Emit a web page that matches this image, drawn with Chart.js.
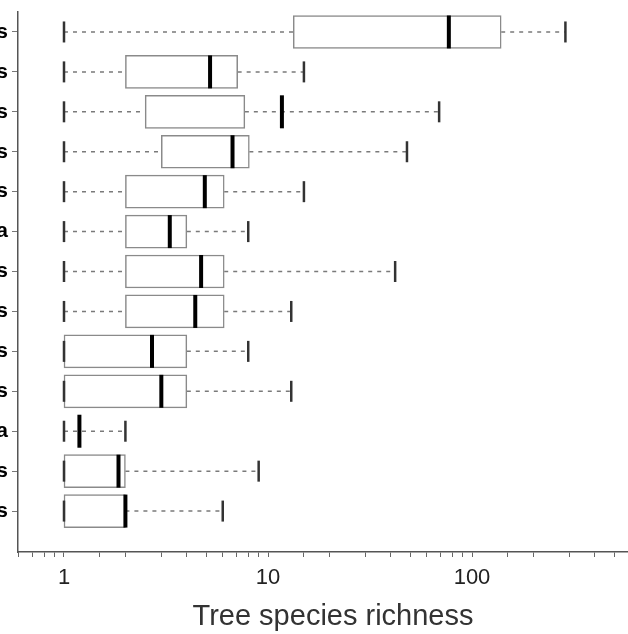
<!DOCTYPE html>
<html>
<head>
<meta charset="utf-8">
<script src="https://cdn.jsdelivr.net/npm/chart.js@4"></script>
<style>
  html, body { margin: 0; padding: 0; background: #fff; overflow: hidden; }
  #wrap { position: absolute; left: -10px; top: 0; width: 658px; height: 634px; }
</style>
</head>
<body>
<div id="wrap"><canvas id="boxChart"></canvas></div>
<script>
// category labels (only the last letter is visible in the source picture)
const cats = ['s', 's', 's', 's', 's', 'a', 's', 's', 's', 's', 'a', 's', 's'];
// box plot statistics, top row first
const mins = [1, 1, 1, 1, 1, 1, 1, 1, 1, 1, 1, 1, 1];
const q1s  = [13.3, 2, 2.5, 3.0, 2, 2, 2, 2, 1, 1, 1, 1, 1];
const meds = [77, 5.2, 11.7, 6.7, 4.9, 3.3, 4.7, 4.4, 2.7, 3.0, 1.19, 1.85, 2.0];
const q3s  = [139, 7.1, 7.7, 8.1, 6.1, 4.0, 6.1, 6.1, 4.0, 4.0, 1, 2.0, 2.0];
const maxs = [287, 15, 69, 48, 15, 8, 42, 13, 8, 13, 2, 9, 6];
const xMajor = [1, 10, 100];

const gap = {x: null, y: null};
const whiskers = [];
cats.forEach((c, i) => {
    whiskers.push({x: mins[i], y: i}, {x: q1s[i], y: i}, gap);
    whiskers.push({x: q3s[i], y: i}, {x: maxs[i], y: i}, gap);
});
const caps = [];
cats.forEach((c, i) => {
    caps.push({x: mins[i], y: i}, {x: maxs[i], y: i});
});
const boxes = cats.map((c, i) => ({x: [q1s[i], q3s[i]], y: i}));
const medians = cats.map((c, i) => ({x: meds[i], y: i}));

const noPad = s => { s.paddingTop = 0; s.paddingBottom = 0; s.paddingLeft = 0; s.paddingRight = 0; };

new Chart(document.getElementById('boxChart'), {
    type: 'bar',
    data: {
        datasets: [
            {
                type: 'scatter', data: whiskers, showLine: true, spanGaps: false,
                borderColor: '#7a7a7a', borderWidth: 1.5, borderDash: [4, 5],
                pointRadius: 0, order: 4
            },
            {
                type: 'bar', indexAxis: 'y', data: boxes,
                backgroundColor: '#ffffff', borderColor: '#8a8a8a', borderWidth: 1.5,
                borderSkipped: false, barThickness: 33, order: 3
            },
            {
                type: 'scatter', data: caps, pointStyle: 'line', rotation: 90,
                pointRadius: 10.5, pointBorderWidth: 2.5, pointBorderColor: '#333',
                order: 2
            },
            {
                type: 'scatter', data: medians, pointStyle: 'line', rotation: 90,
                pointRadius: 16.5, pointBorderWidth: 4, pointBorderColor: '#000',
                order: 1
            }
        ]
    },
    options: {
        responsive: true,
        maintainAspectRatio: false,
        animation: false,
        layout: {autoPadding: false, padding: {top: 12, left: 0, right: 0, bottom: 0}},
        plugins: {legend: {display: false}, tooltip: {enabled: false}},
        scales: {
            x: {
                type: 'logarithmic',
                offset: false,
                min: 0.595,
                max: 729,
                afterFit: s => { s.height = 82; noPad(s); },
                afterBuildTicks: s => { s.ticks = s.ticks.filter(t => t.value >= s.min && t.value <= s.max); },
                border: {display: true, color: '#555', width: 1.5},
                grid: {display: true, offset: false, drawOnChartArea: false, drawTicks: true, tickLength: 5, color: '#666', lineWidth: 1},
                ticks: {
                    autoSkip: false, maxRotation: 0, padding: 8,
                    color: '#222', font: {family: 'Arial, "Liberation Sans"', size: 22},
                    callback: v => xMajor.some(m => Math.abs(m - v) < 1e-6) ? String(Math.round(v)) : ''
                },
                title: {
                    display: true, text: 'Tree species richness', color: '#333',
                    font: {family: 'Arial, "Liberation Sans"', size: 29}, padding: 0
                }
            },
            y: {
                type: 'linear',
                offset: false,
                reverse: true,
                min: -0.5,
                max: 13.025,
                afterFit: s => { s.width = 28; noPad(s); },
                afterBuildTicks: s => { s.ticks = cats.map((c, i) => ({value: i})); },
                border: {display: true, color: '#555', width: 1.5},
                grid: {display: true, offset: false, drawOnChartArea: false, drawTicks: true, tickLength: 6, color: '#777', lineWidth: 1},
                ticks: {
                    autoSkip: false, padding: 4, color: '#000',
                    font: {family: 'Arial, "Liberation Sans"', size: 21, weight: 'bold'},
                    callback: v => cats[v] ?? ''
                }
            }
        }
    }
});
</script>
</body>
</html>
